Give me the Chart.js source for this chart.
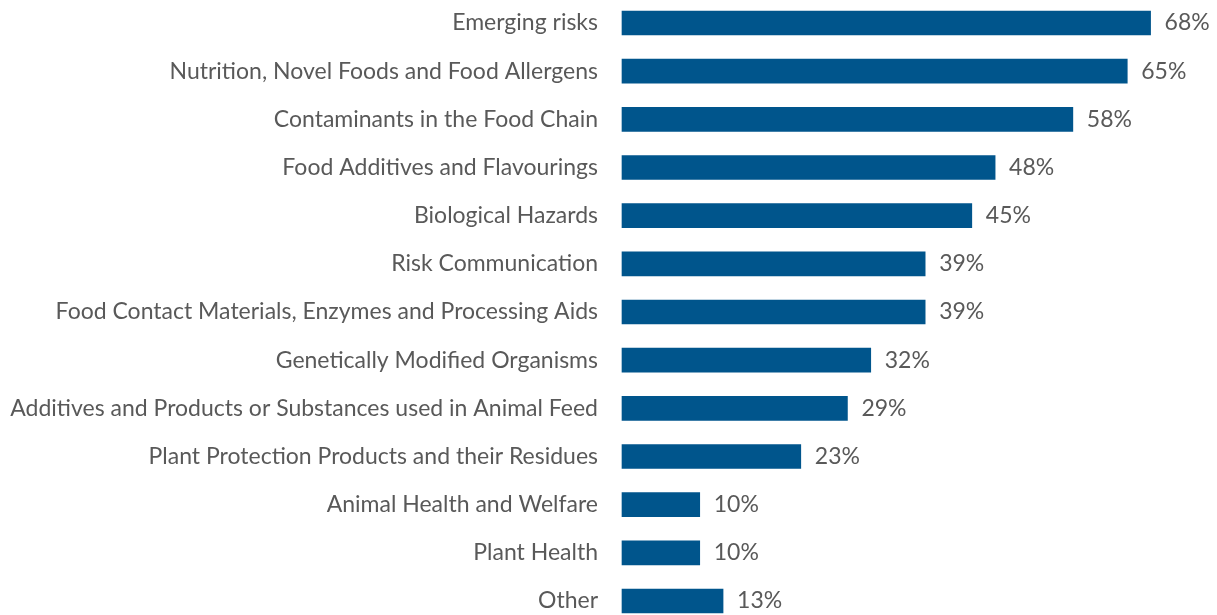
<!DOCTYPE html>
<html>
<head>
<meta charset="utf-8">
<script src="https://cdn.jsdelivr.net/npm/chart.js@4"></script>
<style>
  html, body { margin: 0; padding: 0; background: #ffffff; }
  #wrap { width: 1217px; height: 615px; position: relative; }
</style>
</head>
<body>
<div id="wrap"><canvas id="chart"></canvas></div>
<script>
// Share of respondents per area of interest
const categories = [
  'Emerging risks',
  'Nutrition, Novel Foods and Food Allergens',
  'Contaminants in the Food Chain',
  'Food Additives and Flavourings',
  'Biological Hazards',
  'Risk Communication',
  'Food Contact Materials, Enzymes and Processing Aids',
  'Genetically Modified Organisms',
  'Additives and Products or Substances used in Animal Feed',
  'Plant Protection Products and their Residues',
  'Animal Health and Welfare',
  'Plant Health',
  'Other'
];
const shares = [68, 65, 58, 48, 45, 39, 39, 32, 29, 23, 10, 10, 13];

const BAR_COLOR = '#00558C';
const TEXT_COLOR = '#595959';
const FONT_FAMILY = 'Lato, "Open Sans", sans-serif';
const FONT_SIZE = 23;

// Writes the percentage just past the end of each bar
const valueLabels = {
  id: 'valueLabels',
  afterDatasetsDraw(chart) {
    const ctx = chart.ctx;
    const meta = chart.getDatasetMeta(0);
    ctx.save();
    ctx.font = FONT_SIZE + 'px ' + FONT_FAMILY;
    ctx.fillStyle = TEXT_COLOR;
    ctx.textAlign = 'left';
    ctx.textBaseline = 'middle';
    meta.data.forEach((bar, i) => {
      ctx.fillText(shares[i] + '%', bar.x + 14, bar.y);
    });
    ctx.restore();
  }
};

new Chart(document.getElementById('chart'), {
  type: 'bar',
  data: {
    labels: categories,
    datasets: [{
      data: shares,
      backgroundColor: BAR_COLOR,
      borderWidth: 0,
      barThickness: 24,
      clip: false
    }]
  },
  options: {
    indexAxis: 'y',
    responsive: true,
    maintainAspectRatio: false,
    animation: false,
    layout: { padding: { top: 23, bottom: 14, left: 0, right: 12 } },
    plugins: {
      legend: { display: false },
      tooltip: { enabled: false }
    },
    scales: {
      x: {
        min: 0,
        max: 75,
        display: false
      },
      y: {
        offset: false,
        border: { display: false },
        grid: { display: false, drawTicks: false },
        ticks: {
          padding: 24,
          color: TEXT_COLOR,
          font: { family: FONT_FAMILY, size: FONT_SIZE }
        },
        afterFit(scale) {
          // fixed label column; first and last rows sit on the plot edges
          scale.width = 622;
          scale.paddingTop = 0;
          scale.paddingBottom = 0;
        }
      }
    }
  },
  plugins: [valueLabels]
});
</script>
</body>
</html>
